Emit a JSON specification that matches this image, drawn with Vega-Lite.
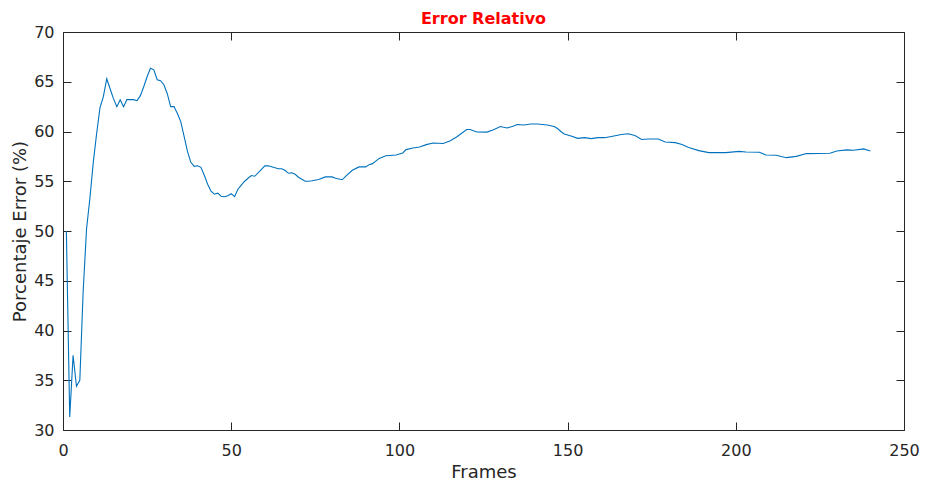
{
  "$schema": "https://vega.github.io/schema/vega-lite/v6.json",
  "width": 841,
  "height": 398,
  "autosize": "none",
  "padding": {"left": 63, "top": 32, "right": 22, "bottom": 54},
  "background": "white",
  "title": {"text": "Error Relativo", "color": "#FF0000", "font": "DejaVu Sans", "fontSize": 16, "fontWeight": "bold", "offset": -3},
  "config": {
    "view": {"stroke": "#262626", "strokeWidth": 1},
    "axis": {"domain": false, "grid": false, "labelFlush": false, "labelOverlap": false, "tickColor": "#262626", "tickSize": -8, "labelColor": "#262626", "labelFont": "DejaVu Sans", "labelFontSize": 16, "titleFont": "DejaVu Sans", "titleFontSize": 18, "titleFontWeight": "normal", "titleColor": "#262626"}
  },
  "data": {"values": [
    {"frame": 1, "error": 50.0}, {"frame": 2, "error": 31.3}, {"frame": 3, "error": 37.5}, {"frame": 4, "error": 34.4}, {"frame": 5, "error": 35.0},
    {"frame": 6, "error": 44.0}, {"frame": 7, "error": 50.2}, {"frame": 8, "error": 53.3}, {"frame": 9, "error": 56.9}, {"frame": 10, "error": 59.8},
    {"frame": 11, "error": 62.4}, {"frame": 12, "error": 63.5}, {"frame": 13, "error": 65.3}, {"frame": 14, "error": 64.3}, {"frame": 15, "error": 63.3},
    {"frame": 16, "error": 62.5}, {"frame": 17, "error": 63.2}, {"frame": 18, "error": 62.5}, {"frame": 19, "error": 63.2}, {"frame": 20, "error": 63.2},
    {"frame": 21, "error": 63.2}, {"frame": 22, "error": 63.1}, {"frame": 23, "error": 63.6}, {"frame": 24, "error": 64.5}, {"frame": 25, "error": 65.5},
    {"frame": 26, "error": 66.35}, {"frame": 27, "error": 66.2}, {"frame": 28, "error": 65.2}, {"frame": 29, "error": 65.1}, {"frame": 30, "error": 64.7},
    {"frame": 31, "error": 63.8}, {"frame": 32, "error": 62.5}, {"frame": 33, "error": 62.5}, {"frame": 34, "error": 61.8}, {"frame": 35, "error": 61.0},
    {"frame": 36, "error": 59.5}, {"frame": 37, "error": 58.0}, {"frame": 38, "error": 56.9}, {"frame": 39, "error": 56.5}, {"frame": 40, "error": 56.55},
    {"frame": 41, "error": 56.4}, {"frame": 42, "error": 55.6}, {"frame": 43, "error": 54.7}, {"frame": 44, "error": 54.0}, {"frame": 45, "error": 53.7},
    {"frame": 46, "error": 53.8}, {"frame": 47, "error": 53.5}, {"frame": 48, "error": 53.45}, {"frame": 49, "error": 53.55}, {"frame": 50, "error": 53.75},
    {"frame": 51, "error": 53.45}, {"frame": 52, "error": 54.2}, {"frame": 53, "error": 54.6}, {"frame": 54, "error": 55.0}, {"frame": 55, "error": 55.3},
    {"frame": 56, "error": 55.57}, {"frame": 57, "error": 55.5}, {"frame": 60, "error": 56.55}, {"frame": 61, "error": 56.55}, {"frame": 62, "error": 56.45},
    {"frame": 64, "error": 56.25}, {"frame": 65, "error": 56.25}, {"frame": 66, "error": 56.1}, {"frame": 67, "error": 55.8}, {"frame": 68, "error": 55.85},
    {"frame": 69, "error": 55.7}, {"frame": 70, "error": 55.4}, {"frame": 72, "error": 55.0}, {"frame": 73, "error": 55.0}, {"frame": 74, "error": 55.05},
    {"frame": 76, "error": 55.17}, {"frame": 78, "error": 55.44}, {"frame": 80, "error": 55.44}, {"frame": 81, "error": 55.3}, {"frame": 83, "error": 55.15},
    {"frame": 84, "error": 55.5}, {"frame": 86, "error": 56.1}, {"frame": 88, "error": 56.44}, {"frame": 90, "error": 56.44}, {"frame": 91, "error": 56.67},
    {"frame": 92, "error": 56.77}, {"frame": 94, "error": 57.3}, {"frame": 96, "error": 57.57}, {"frame": 99, "error": 57.64}, {"frame": 101, "error": 57.84},
    {"frame": 102, "error": 58.18}, {"frame": 104, "error": 58.35}, {"frame": 106, "error": 58.45}, {"frame": 108, "error": 58.68}, {"frame": 110, "error": 58.85},
    {"frame": 113, "error": 58.8}, {"frame": 115, "error": 59.05}, {"frame": 117, "error": 59.45}, {"frame": 118, "error": 59.7}, {"frame": 120, "error": 60.2},
    {"frame": 121, "error": 60.2}, {"frame": 123, "error": 59.95}, {"frame": 126, "error": 59.94}, {"frame": 128, "error": 60.18}, {"frame": 130, "error": 60.5},
    {"frame": 132, "error": 60.35}, {"frame": 134, "error": 60.55}, {"frame": 135, "error": 60.7}, {"frame": 137, "error": 60.65}, {"frame": 139, "error": 60.75},
    {"frame": 141, "error": 60.75}, {"frame": 144, "error": 60.65}, {"frame": 146, "error": 60.5}, {"frame": 147, "error": 60.3}, {"frame": 148, "error": 60.0},
    {"frame": 149, "error": 59.75}, {"frame": 151, "error": 59.55}, {"frame": 153, "error": 59.31}, {"frame": 155, "error": 59.38}, {"frame": 157, "error": 59.28},
    {"frame": 159, "error": 59.38}, {"frame": 161, "error": 59.38}, {"frame": 163, "error": 59.5}, {"frame": 166, "error": 59.7}, {"frame": 168, "error": 59.78},
    {"frame": 170, "error": 59.6}, {"frame": 172, "error": 59.2}, {"frame": 174, "error": 59.25}, {"frame": 177, "error": 59.25}, {"frame": 179, "error": 58.95},
    {"frame": 182, "error": 58.88}, {"frame": 184, "error": 58.7}, {"frame": 186, "error": 58.4}, {"frame": 189, "error": 58.08}, {"frame": 192, "error": 57.88},
    {"frame": 197, "error": 57.88}, {"frame": 201, "error": 58.0}, {"frame": 203, "error": 57.94}, {"frame": 207, "error": 57.91}, {"frame": 209, "error": 57.64},
    {"frame": 212, "error": 57.61}, {"frame": 215, "error": 57.37}, {"frame": 218, "error": 57.5}, {"frame": 221, "error": 57.78}, {"frame": 228, "error": 57.81},
    {"frame": 230, "error": 58.04}, {"frame": 233, "error": 58.15}, {"frame": 235, "error": 58.11}, {"frame": 238, "error": 58.25}, {"frame": 240, "error": 58.04}
  ]},
  "layer": [
    {
      "mark": {"type": "line", "color": "#0072BD", "strokeWidth": 1.1, "clip": true},
      "encoding": {
        "x": {"field": "frame", "type": "quantitative", "scale": {"domain": [0, 250], "nice": false, "zero": false}, "axis": {"title": "Frames", "values": [0, 50, 100, 150, 200, 250], "labelPadding": 20, "titlePadding": 5}},
        "y": {"field": "error", "type": "quantitative", "scale": {"domain": [30, 70], "nice": false, "zero": false}, "axis": {"title": "Porcentaje Error (%)", "values": [30, 35, 40, 45, 50, 55, 60, 65, 70], "labelPadding": 17, "titlePadding": 4}}
      }
    },
    {
      "mark": {"type": "line", "opacity": 0},
      "encoding": {
        "x": {"field": "frame", "type": "quantitative", "scale": {"domain": [0, 250], "nice": false, "zero": false}, "axis": {"orient": "top", "title": null, "labels": false, "values": [0, 50, 100, 150, 200, 250]}},
        "y": {"field": "error", "type": "quantitative", "scale": {"domain": [30, 70], "nice": false, "zero": false}, "axis": {"orient": "right", "title": null, "labels": false, "values": [30, 35, 40, 45, 50, 55, 60, 65, 70]}}
      }
    }
  ],
  "resolve": {"axis": {"x": "independent", "y": "independent"}}
}
